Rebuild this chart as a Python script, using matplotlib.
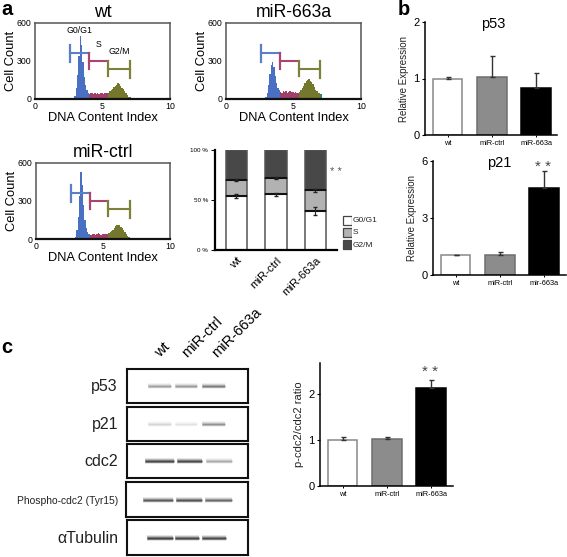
import numpy as np
import matplotlib
matplotlib.use('Agg')
import matplotlib.pyplot as plt

plt.rcParams['font.family'] = ['Liberation Sans', 'DejaVu Sans']

W, H = 567, 557

# flow histograms, counts per 0.1 of DNA content index, starting at 2.8
hist_start = 2.8
wt_counts = [8, 25, 90, 190, 340, 500, 430, 290, 170, 110, 70, 50, 42, 45, 48, 40, 46, 42, 48, 40, 44, 48, 42, 46, 48,
             45, 50, 60, 70, 80, 92, 102, 112, 128, 115, 102, 90, 80, 62, 45, 28, 18, 12, 6, 2]
mir663_counts = [4, 12, 45, 110, 200, 265, 290, 250, 185, 125, 90, 68, 55, 50, 62, 55, 62, 50, 58, 60, 52, 58, 50, 55, 48,
                 50, 58, 70, 85, 100, 125, 140, 150, 160, 145, 135, 115, 95, 72, 60, 50, 45, 38, 10, 2]
ctrl_counts = [5, 18, 70, 170, 340, 530, 430, 270, 150, 90, 55, 38, 28, 30, 36, 40, 32, 36, 44, 38, 34, 42, 38, 36, 38,
               40, 46, 54, 62, 75, 90, 105, 110, 112, 108, 98, 85, 70, 55, 40, 25, 16, 10, 5, 1]

hist_titles = ['wt', 'miR-663a', 'miR-ctrl']
gate_names = ['G0/G1', 'S', 'G2/M']
gate_start = [2.6, 4.0, 5.4]
gate_end = [4.0, 5.4, 7.0]
gate_y = [360, 300, 240]
gate_cols = ['#5a7fc8', '#a8466f', '#7d8238']

# stacked cell cycle bars
groups = ['wt', 'miR-ctrl', 'miR-663a']
g0g1 = [54, 56, 39]
s_phase = [16, 16, 21]
g2m = [30, 28, 40]
g0g1_err = [2, 1.5, 4]
s_err = [1, 1, 1.5]

# panel b and c bars
p53_vals = [1.0, 1.02, 0.83]
p53_err = [0.02, 0.38, 0.27]
p21_labels = ['wt', 'miR-ctrl', 'mir-663a']
p21_vals = [1.03, 1.07, 4.6]
p21_err = [0.02, 0.15, 0.85]
ratio_vals = [1.0, 1.02, 2.13]
ratio_err = [0.07, 0.05, 0.17]

# western blots, band darkness per lane
blot_names = ['p53', 'p21', 'cdc2', 'Phospho-cdc2 (Tyr15)', '\u03b1Tubulin']
blot_dark = [[0.32, 0.34, 0.48],
             [0.12, 0.08, 0.38],
             [0.82, 0.80, 0.28],
             [0.66, 0.72, 0.58],
             [0.85, 0.82, 0.80]]

fig = plt.figure(figsize=(W / 100, H / 100), dpi=100)


def px_axes(x0, y0, x1, y1, **kw):
    return fig.add_axes([x0 / W, 1 - y1 / H, (x1 - x0) / W, (y1 - y0) / H], **kw)


def px_text(x, y, s, **kw):
    kw.setdefault('ha', 'center')
    kw.setdefault('va', 'center')
    return fig.text(x / W, 1 - y / H, s, **kw)


def draw_hist(box, title, counts, with_names=False):
    ax = px_axes(*box)
    counts = np.array(counts)
    edges = hist_start + 0.1 * np.arange(len(counts) + 1)
    cuts = [0, 12, 26, 42, len(counts)]
    for k, c in enumerate(['#4a70c4', '#a03f68', '#74782c', '#2c8a55']):
        a, b = cuts[k], cuts[k + 1]
        ax.stairs(counts[a:b], edges[a:b + 1], fill=True, color=c, lw=0)
    for i in range(3):
        c = gate_cols[i]
        y = gate_y[i]
        ax.plot([gate_start[i], gate_end[i]], [y, y], color=c, lw=1.5)
        hh = 65 if i == 0 else 60
        ax.plot([gate_start[i]] * 2, [y - hh, y + hh], color=c, lw=1.6)
        if i == 2:
            ax.plot([gate_end[i]] * 2, [y - 75, y + 60], color=c, lw=1.6)
    ax.set_xlim(0, 10)
    ax.set_ylim(0, 600)
    ax.set_xticks([0, 5, 10])
    ax.set_yticks([0, 300, 600])
    ax.tick_params(labelsize=6.3, length=0, pad=2.5)
    for sp in ax.spines.values():
        sp.set_color('#555555')
        sp.set_linewidth(1.1)
    ax.spines['bottom'].set_color('#111111')
    ax.spines['bottom'].set_linewidth(1.6)
    ax.set_xlabel('DNA Content Index', fontsize=9.3, labelpad=0.5)
    ax.set_ylabel('Cell Count', fontsize=9.3, labelpad=0)
    ax.set_title(title, fontsize=12.7, pad=4.5)
    if with_names:
        ax.text(3.3, 540, gate_names[0], fontsize=6.3, ha='center', va='center')
        ax.text(4.7, 430, gate_names[1], fontsize=6.3, ha='center', va='center')
        ax.text(6.25, 375, gate_names[2], fontsize=6.3, ha='center', va='center')


draw_hist((35, 23, 170, 99), hist_titles[0], wt_counts, True)
draw_hist((226, 23, 361, 99), hist_titles[1], mir663_counts)
draw_hist((36, 163, 170, 239), hist_titles[2], ctrl_counts)

# stacked bars
ax = px_axes(215, 150, 337, 250)
xs = np.arange(3)
bot2 = np.array(g0g1)
bot3 = bot2 + np.array(s_phase)
edge = '#555555'
ax.bar(xs, g0g1, width=0.54, color='white', edgecolor=edge, lw=1.1)
ax.bar(xs, s_phase, bottom=bot2, width=0.54, color='#b2b2b2', edgecolor=edge, lw=1.1)
ax.bar(xs, g2m, bottom=bot3, width=0.54, color='#484848', edgecolor=edge, lw=1.1)
ax.hlines(bot2, xs - 0.27, xs + 0.27, color='#111111', lw=1.5)
ax.hlines(bot3, xs - 0.27, xs + 0.27, color='#111111', lw=1.5)
ax.errorbar(xs, bot2, yerr=g0g1_err, fmt='none', ecolor='#222222', elinewidth=0.8, capsize=1.5)
ax.errorbar(xs, bot3, yerr=s_err, fmt='none', ecolor='#222222', elinewidth=0.8, capsize=1.5)
ax.set_xlim(-0.544, 2.545)
ax.set_ylim(0, 100)
ax.set_yticks([0, 50, 100])
ax.set_yticklabels(['0 %', '50 %', '100 %'])
ax.set_xticks(xs)
ax.set_xticklabels(groups, rotation=45, ha='right', rotation_mode='anchor', fontsize=8.2)
ax.tick_params(axis='y', labelsize=4.5, length=3, width=0.7, pad=2)
ax.tick_params(axis='x', length=0, pad=4)
ax.spines[['top', 'right']].set_visible(False)
ax.spines[['left', 'bottom']].set_linewidth(1.6)
px_text(336, 172, '* *', fontsize=8, color='#555555')
leg_cols = ['white', '#b2b2b2', '#484848']
leg_box = px_axes(342, 215, 352, 251)
leg_box.axis('off')
leg_box.set_xlim(0, 1)
leg_box.set_ylim(3, 0)
for i, c in enumerate(leg_cols):
    leg_box.bar(0.5, 0.72, width=0.9, bottom=i + 0.08, color=c, edgecolor='#444444', lw=0.9)
    px_text(353, 220 + 12.9 * i, gate_names[i], fontsize=6, ha='left', color='#222222')


def draw_bars(box, vals, errs, labels, ymax, ticks, ylabel):
    ax = px_axes(*box)
    xs = np.arange(3)
    ax.bar(xs, vals, width=0.67, color=['white', '#8c8c8c', 'black'],
           edgecolor=['#888888', '#6e6e6e', 'black'], lw=1.1)
    ax.errorbar(xs, vals, yerr=[[0, 0, 0], errs], fmt='none', ecolor='#333333', elinewidth=1, capsize=1.8)
    ax.set_xlim(-0.51, -0.51 + (box[2] - box[0]) / 44.3)
    ax.set_ylim(0, ymax)
    ax.set_xticks(xs)
    ax.set_xticklabels(labels, fontsize=5.3)
    ax.set_yticks(ticks)
    ax.tick_params(axis='y', labelsize=8, length=2.5, width=0.8, pad=1.5)
    ax.tick_params(axis='x', length=1.5, width=0.7, pad=2)
    ax.spines[['top', 'right']].set_visible(False)
    ax.spines[['left', 'bottom']].set_linewidth(1.1)
    ax.set_ylabel(ylabel, fontsize=7 if 'Rel' in ylabel else 8, color='#222222', labelpad=3)
    return ax


draw_bars((425, 22, 557, 135), p53_vals, p53_err, groups, 2, [0, 1, 2], 'Relative Expression')
px_text(493, 24, 'p53', fontsize=10.5)
draw_bars((433, 161, 566, 275), p21_vals, p21_err, p21_labels, 6, [0, 3, 6], 'Relative Expression')
px_text(499, 163, 'p21', fontsize=10.5)
px_text(543, 167, '* *', fontsize=11, color='#444444')
draw_bars((320, 363, 453, 486), ratio_vals, ratio_err, groups, 2.67, [0, 1, 2], 'p-cdc2/cdc2 ratio')
px_text(430, 372, '* *', fontsize=11, color='#444444')

# western blots
blot_boxes = [(127, 369, 248, 403), (127, 407, 248, 441), (127, 444, 248, 478),
              (126, 482, 248, 517), (127, 520, 248, 555)]
band_lims = [[(148, 171), (175, 197), (202, 225)],
             [(148, 171), (175, 197), (202, 225)],
             [(145, 174), (177, 202), (206, 232)],
             [(143, 173), (176, 202), (205, 232)],
             [(147, 173), (175, 199), (202, 226)]]
blot_size = [11.5, 11.5, 11.5, 7.4, 11.5]
for i, box in enumerate(blot_boxes):
    ax = px_axes(*box)
    ax.set_xlim(box[0], box[2])
    ax.set_ylim(0, 1)
    ax.set_xticks([])
    ax.set_yticks([])
    for sp in ax.spines.values():
        sp.set_linewidth(1.5)
        sp.set_color('#111111')
    for j, d in enumerate(blot_dark[i]):
        a, b = band_lims[i][j]
        # stacked strokes give the soft edge of a scanned band
        for lw, al in zip([4, 3, 2, 1], [0.12, 0.2, 0.35, 0.55]):
            ax.plot([a, b], [0.5, 0.5], color='#222222', lw=lw, alpha=al * d * 1.3,
                    solid_capstyle='butt')
    cy = (box[1] + box[3]) / 2 + 1
    px_text(118, cy, blot_names[i], fontsize=blot_size[i], ha='right', color='#222222')

for name, x in zip(groups, [162, 189, 219]):
    px_text(x, 360, name, fontsize=10.5, rotation=45, ha='left', va='bottom', rotation_mode='anchor')

# panel letters
px_text(7, 15, 'a', fontsize=14.5, fontweight='bold', va='baseline')
px_text(403.5, 15, 'b', fontsize=14.5, fontweight='bold', va='baseline')
px_text(7, 353, 'c', fontsize=14.5, fontweight='bold', va='baseline')

fig.savefig('out.png', dpi=100)
